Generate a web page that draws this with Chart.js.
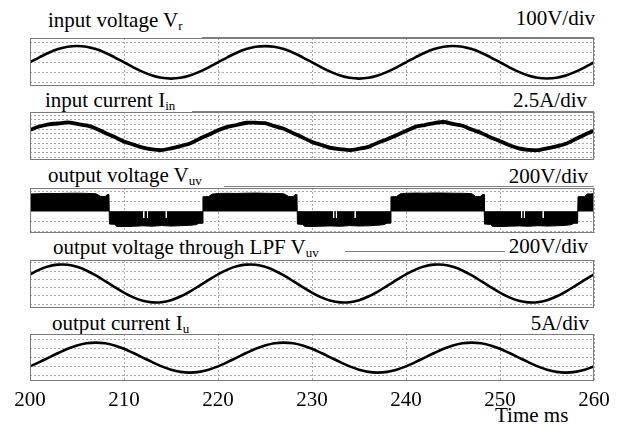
<!DOCTYPE html>
<html>
<head>
<meta charset="utf-8">
<script src="https://cdn.jsdelivr.net/npm/chart.js@4.4.0/dist/chart.umd.min.js"></script>
<style>
  body { margin: 0; background: #fff; }
  #wrap { position: relative; width: 621px; height: 425px; overflow: hidden; font-family: "Liberation Serif", "Times New Roman", serif; }
  #wrap canvas { position: absolute; left: 0; }
  .lbl { position: absolute; font-size: 21px; line-height: 21px; white-space: nowrap; color: #000; }
  .lbl sub { font-size: 13px; line-height: 0; vertical-align: -3px; }
  .rule { position: absolute; height: 0; border-top: 1px solid #808080; }
</style>
</head>
<body>
<div id="wrap">
  <div class="lbl" style="left:48px;top:10px">input voltage V<sub>r</sub></div>
  <div class="lbl" style="right:26px;top:8px">100V/div</div>
  <div class="rule" style="left:202px;width:392px;top:37px"></div>

  <div class="lbl" style="left:45px;top:90px">input current I<sub>in</sub></div>
  <div class="lbl" style="right:34px;top:90px">2.5A/div</div>
  <div class="rule" style="left:192px;width:402px;top:111px"></div>

  <div class="lbl" style="left:48px;top:165px">output voltage V<sub>uv</sub></div>
  <div class="lbl" style="right:33px;top:166px">200V/div</div>
  <div class="rule" style="left:224px;width:370px;top:186px"></div>

  <div class="lbl" style="left:53px;top:237px">output voltage through LPF V<sub>uv</sub></div>
  <div class="lbl" style="right:33px;top:236px">200V/div</div>
  <div class="rule" style="left:345px;width:160px;top:251px"></div>

  <div class="lbl" style="left:52px;top:313px">output current I<sub>u</sub></div>
  <div class="lbl" style="right:32px;top:313px">5A/div</div>

  <div class="lbl" style="left:495px;top:405px">Time ms</div>

  <canvas id="p1"></canvas>
  <canvas id="p2"></canvas>
  <canvas id="p3"></canvas>
  <canvas id="p4"></canvas>
  <canvas id="p5"></canvas>
</div>

<script>
// time axis (ms)
const timeMs = [200,201,202,203,204,205,206,207,208,209,
                210,211,212,213,214,215,216,217,218,219,
                220,221,222,223,224,225,226,227,228,229,
                230,231,232,233,234,235,236,237,238,239,
                240,241,242,243,244,245,246,247,248,249,
                250,251,252,253,254,255,256,257,258,259,
                260];
const timeTicks = [200, 210, 220, 230, 240, 250, 260];

// input voltage Vr (V)
const inputVoltage = [0,50,96,132,155,163,155,132,96,50,
                      0,-50,-96,-132,-155,-163,-155,-132,-96,-50,
                      0,50,96,132,155,162,155,132,96,50,
                      0,-50,-96,-132,-155,-163,-155,-132,-96,-50,
                      0,50,96,132,155,163,155,132,96,50,
                      0,-50,-96,-132,-155,-162,-155,-132,-96,-50,
                      0];

// input current Iin (A)
const inputCurrent = [1.7,2.6,3.2,3.4,3.7,3.3,2.9,2.1,0.9,-0.2,
                      -1.4,-2.2,-3.0,-3.5,-3.7,-3.2,-2.6,-1.9,-0.7,0.4,
                      1.6,2.5,3.0,3.6,3.6,3.5,2.7,2.0,0.8,-0.3,
                      -1.5,-2.3,-3.1,-3.4,-3.7,-3.3,-2.8,-1.7,-0.8,0.3,
                      1.4,2.5,3.0,3.5,3.8,3.3,2.8,1.8,0.9,-0.3,
                      -1.3,-2.4,-3.2,-3.6,-3.7,-3.2,-2.7,-2.0,-0.8,0.4,
                      1.5];

// output voltage Vuv, PWM envelope (time ms, V)
const pwmTime = [200,201,202,203,204,205,206,207,207.5,208.0,208.2,208.4,
                 208.45,209.0,209.2,210,211,212,213,214,215,216,217,217.6,218.0,218.35,
                 218.4,219.0,219.4,220,221,222,223,224,225,226,227,227.5,228.0,228.2,228.4,
                 228.45,229.0,229.2,230,231,232,233,234,235,236,237,237.6,238.0,238.35,
                 238.4,239.0,239.4,240,241,242,243,244,245,246,247,247.4,247.9,248.1,248.3,
                 248.35,249.0,249.2,250,251,252,253,254,255,256,257,257.5,257.9,258.25,
                 258.3,259.0,259.3,259.6,260];
const pwmVoltage = [345,352,358,355,360,362,358,352,300,292,335,335,
                    -255,-260,-300,-305,-300,-290,-298,-285,-295,-288,-280,-270,-240,-240,
                    290,295,345,355,360,357,362,365,360,358,350,298,292,335,335,
                    -255,-262,-300,-302,-298,-292,-300,-286,-294,-290,-278,-268,-238,-238,
                    290,296,350,360,365,362,367,365,362,360,352,298,292,335,335,
                    -255,-262,-300,-305,-298,-292,-300,-288,-295,-290,-280,-270,-240,-240,
                    290,295,350,345,355];
// narrow switching notches inside the negative blocks
const notchTimes = [212.1, 212.5, 214.5, 232.3, 232.6, 234.6, 252.3, 252.6, 254.6];
const notchDepth = -130;

// output voltage through LPF (V)
const lpfVoltage = [221,334,414,454,450,401,314,195,57,-86,
                    -221,-334,-414,-454,-450,-401,-314,-195,-57,86,
                    221,334,414,454,450,401,314,195,57,-86,
                    -221,-334,-414,-454,-450,-401,-314,-195,-57,86,
                    221,334,414,454,450,401,314,195,57,-86,
                    -221,-334,-414,-454,-450,-401,-314,-195,-57,86,
                    221];

// output current Iu (A)
const outputCurrent = [-4.8,-2.5,0,2.5,4.8,6.6,7.8,8.2,7.8,6.6,
                       4.8,2.5,0,-2.5,-4.8,-6.6,-7.8,-8.2,-7.8,-6.6,
                       -4.8,-2.5,0,2.5,4.8,6.6,7.8,8.2,7.8,6.6,
                       4.8,2.5,0,-2.5,-4.8,-6.6,-7.8,-8.2,-7.8,-6.6,
                       -4.8,-2.5,0,2.5,4.8,6.6,7.8,8.2,7.8,6.6,
                       4.8,2.5,0,-2.5,-4.8,-6.6,-7.8,-8.2,-7.8,-6.6,
                       -4.8];

// grid levels of each panel (one dotted line per division)
const grid1 = [-200, -100, 0, 100, 200];
const grid2 = [-5.625, -4.375, -3.125, -1.875, -0.625, 0.625, 1.875, 3.125, 4.375, 5.625];
const grid3 = [-400, -200, 0, 200, 400];
const grid4 = [-500, -300, -100, 100, 300, 500];
const grid5 = [-10, -5, 0, 5, 10];

const zip = (xs, ys) => xs.map((x, i) => ({ x: x, y: ys[i] }));

const framePlugin = {
  id: 'frame',
  afterDraw(chart) {
    const { ctx, chartArea: a } = chart;
    ctx.save();
    ctx.strokeStyle = '#7a7a7a';
    ctx.lineWidth = 1;
    ctx.strokeRect(a.left + 0.5, a.top + 0.5, a.width - 1, a.height - 1);
    ctx.restore();
  }
};

function wave(values, width, tension) {
  return {
    data: zip(timeMs, values),
    borderColor: '#000',
    borderWidth: width,
    pointRadius: 0,
    tension: tension,
    fill: false
  };
}

function makePanel(id, top, height, yMin, yMax, levels, datasets, opts) {
  opts = opts || {};
  const canvas = document.getElementById(id);
  const axisH = opts.showX ? 46 : 0;
  canvas.width = 621;
  canvas.height = height + 4 + axisH;
  canvas.style.top = (top - 2) + 'px';

  return new Chart(canvas, {
    type: 'line',
    data: { datasets: datasets },
    options: {
      responsive: false,
      animation: false,
      events: [],
      layout: { padding: { left: 30, right: 27, top: 2, bottom: opts.showX ? 0 : 2 } },
      plugins: { legend: { display: false }, tooltip: { enabled: false } },
      scales: {
        x: {
          type: 'linear',
          min: 200,
          max: 260,
          afterBuildTicks: s => { s.ticks = timeTicks.map(v => ({ value: v })); },
          afterFit: s => { s.height = axisH; },
          grid: { color: '#a8a8a8', lineWidth: 1, drawTicks: false },
          border: { display: false, dash: [2, 2] },
          ticks: {
            display: !!opts.showX,
            autoSkip: false,
            maxRotation: 0,
            padding: 7,
            color: '#000',
            font: { family: '"Liberation Serif", "Times New Roman", serif', size: 21 }
          }
        },
        y: {
          min: yMin,
          max: yMax,
          afterBuildTicks: s => { s.ticks = levels.map(v => ({ value: v })); },
          afterFit: s => { s.width = 0; },
          grid: { color: '#a8a8a8', lineWidth: 1, drawTicks: false },
          border: {
            display: false,
            dash: ctx => (opts.solidZero && ctx.tick && ctx.tick.value === 0) ? [] : [2, 2]
          },
          ticks: { display: false }
        }
      }
    },
    plugins: [framePlugin]
  });
}

makePanel('p1', 38, 48, -237, 243, grid1, [wave(inputVoltage, 2.6, 0.4)]);

makePanel('p2', 112, 48, -6.30, 6.46, grid2, [wave(inputCurrent, 3.8, 0.25)]);

const notchData = [];
notchTimes.forEach(t => {
  notchData.push({ x: t, y: 0 }, { x: t, y: notchDepth }, { x: t, y: null });
});
makePanel('p3', 188, 45, -434, 466, grid3, [
  {
    data: notchData,
    borderColor: '#fff',
    borderWidth: 1,
    pointRadius: 0,
    spanGaps: false,
    order: 0
  },
  {
    data: zip(pwmTime, pwmVoltage),
    borderColor: '#000',
    borderWidth: 1,
    backgroundColor: '#000',
    pointRadius: 0,
    tension: 0,
    fill: 'origin',
    order: 1
  }
], { solidZero: true });

makePanel('p4', 260, 48, -590, 566, grid4, [wave(lpfVoltage, 2.6, 0.4)]);

makePanel('p5', 334, 45, -12.8, 12.9, grid5, [wave(outputCurrent, 2.6, 0.4)], { showX: true });
</script>
</body>
</html>
